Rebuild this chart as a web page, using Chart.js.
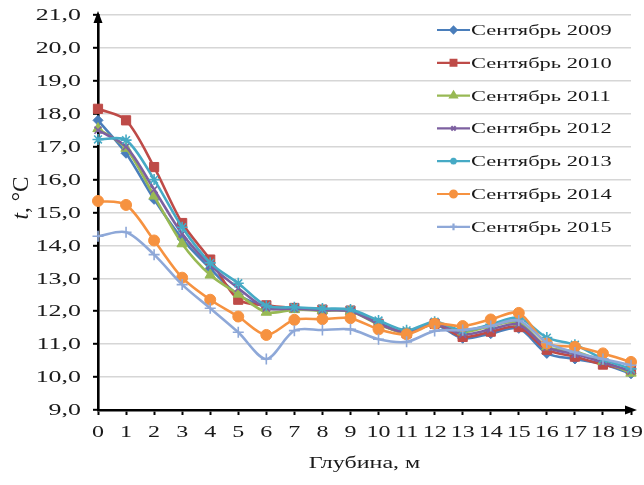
<!DOCTYPE html>
<html>
<head>
<meta charset="utf-8">
<script src="https://cdn.jsdelivr.net/npm/chart.js@4/dist/chart.umd.min.js"></script>
<style>
  html, body { margin: 0; padding: 0; background: #fff; }
  #wrap { width: 644px; height: 485px; }
</style>
</head>
<body>
<div id="wrap"><canvas id="tempChart" width="644" height="485"></canvas></div>
<script>
// глубина, м
const depths = [0, 1, 2, 3, 4, 5, 6, 7, 8, 9, 10, 11, 12, 13, 14, 15, 16, 17, 18, 19];

// температура, °C (сентябрь каждого года)
const sep2009 = [17.8, 16.8, 15.4, 14.2, 13.3, 12.5, 12.15, 12.1, 12.05, 12.0, 11.65, 11.35, 11.6, 11.18, 11.32, 11.48, 10.72, 10.55, 10.4, 10.1];
const sep2010 = [18.15, 17.8, 16.38, 14.68, 13.57, 12.35, 12.18, 12.1, 12.05, 12.02, 11.62, 11.33, 11.62, 11.22, 11.38, 11.52, 10.83, 10.62, 10.38, 10.2];
const sep2011 = [17.55, 16.95, 15.5, 14.05, 13.1, 12.52, 11.97, 12.05, 12.02, 12.0, 11.6, 11.35, 11.62, 11.37, 11.55, 11.65, 10.92, 10.78, 10.48, 10.12];
const sep2012 = [17.5, 17.0, 15.7, 14.35, 13.4, 12.7, 12.1, 12.08, 12.03, 12.0, 11.62, 11.36, 11.63, 11.3, 11.45, 11.6, 10.9, 10.7, 10.45, 10.18];
const sep2013 = [17.22, 17.2, 16.0, 14.55, 13.47, 12.85, 12.17, 12.12, 12.08, 12.05, 11.72, 11.42, 11.68, 11.42, 11.6, 11.8, 11.2, 10.98, 10.55, 10.25];
const sep2014 = [15.35, 15.23, 14.15, 13.02, 12.35, 11.84, 11.28, 11.74, 11.76, 11.79, 11.45, 11.3, 11.62, 11.55, 11.75, 11.95, 11.02, 10.92, 10.72, 10.46];
const sep2015 = [14.28, 14.4, 13.72, 12.81, 12.09, 11.36, 10.55, 11.41, 11.43, 11.45, 11.15, 11.07, 11.4, 11.43, 11.55, 11.72, 11.05, 10.75, 10.55, 10.36];

const seriesNames = ['Сентябрь 2009', 'Сентябрь 2010', 'Сентябрь 2011', 'Сентябрь 2012', 'Сентябрь 2013', 'Сентябрь 2014', 'Сентябрь 2015'];
const seriesValues = [sep2009, sep2010, sep2011, sep2012, sep2013, sep2014, sep2015];

const yMin = 9;
const yMax = 21;
const xTitle = 'Глубина, м';

const colors = ['#4a7ebb', '#be4b48', '#98b954', '#7d60a0', '#46aac5', '#f69240', '#8ea8d8'];
const markers = ['rectRot', 'rect', 'triangle', 'crossRot', 'star', 'circle', 'cross'];
const radii = [5, 6.5, 6, 5, 5.5, 5.5, 5.5];

const FONT = '"Liberation Serif", "Times New Roman", serif';

const datasets = seriesNames.map((name, i) => ({
    label: name,
    data: seriesValues[i],
    borderColor: colors[i],
    backgroundColor: colors[i],
    borderWidth: 2.6,
    pointStyle: markers[i],
    pointRadius: radii[i],
    pointBorderWidth: (markers[i] === 'crossRot' || markers[i] === 'star' || markers[i] === 'cross') ? 1.6 : 1,
    tension: 0.3,
    order: seriesNames.length - i
}));

// текст в исходнике растянут по горизонтали
function wideText(ctx, text, x, y, sx, align) {
    ctx.save();
    ctx.translate(x, y);
    ctx.scale(sx, 1);
    ctx.textAlign = align;
    ctx.fillText(text, 0, 0);
    ctx.restore();
}

const decor = {
    id: 'decor',
    afterDraw(chart) {
        const { ctx, chartArea: a, scales } = chart;
        const xs = scales.x, ys = scales.y;
        ctx.save();

        // стрелки осей
        ctx.fillStyle = '#000';
        ctx.beginPath();
        ctx.moveTo(a.left, a.top - 4);
        ctx.lineTo(a.left - 4.5, a.top + 8);
        ctx.lineTo(a.left + 4.5, a.top + 8);
        ctx.closePath();
        ctx.fill();
        ctx.beginPath();
        ctx.moveTo(a.right + 6, a.bottom);
        ctx.lineTo(a.right - 6, a.bottom - 4.5);
        ctx.lineTo(a.right - 6, a.bottom + 4.5);
        ctx.closePath();
        ctx.fill();

        ctx.fillStyle = '#1a1a1a';
        ctx.textBaseline = 'middle';

        // подписи оси Y
        ctx.font = '16px ' + FONT;
        for (let v = yMin; v <= yMax; v++) {
            wideText(ctx, v.toFixed(1).replace('.', ','), a.left - 17, ys.getPixelForValue(v) + 1, 1.62, 'right');
        }

        // подписи оси X
        depths.forEach((d, i) => {
            wideText(ctx, String(d), xs.getPixelForValue(i), a.bottom + 23, 1.5, 'center');
        });

        // название оси X
        wideText(ctx, xTitle, (a.left + a.right) / 2, a.bottom + 54, 1.5, 'center');

        // название оси Y: курсивная t
        ctx.save();
        ctx.translate(22, 198);
        ctx.rotate(-Math.PI / 2);
        ctx.scale(1.45, 1.5);
        ctx.textAlign = 'left';
        ctx.font = 'italic 16px ' + FONT;
        const tW = ctx.measureText('t').width;
        ctx.font = '16px ' + FONT;
        const restW = ctx.measureText(', °C').width;
        const start = -(tW + restW) / 2;
        ctx.font = 'italic 16px ' + FONT;
        ctx.fillText('t', start, 0);
        ctx.font = '16px ' + FONT;
        ctx.fillText(', °C', start + tW, 0);
        ctx.restore();

        // легенда
        ctx.font = '15.5px ' + FONT;
        chart.data.datasets.forEach((ds, i) => {
            const cy = 30 + i * 32.8;
            ctx.strokeStyle = ds.borderColor;
            ctx.lineWidth = 2.2;
            ctx.beginPath();
            ctx.moveTo(437, cy);
            ctx.lineTo(470, cy);
            ctx.stroke();
            ctx.fillStyle = ds.backgroundColor;
            Chart.helpers.drawPoint(ctx, {
                pointStyle: ds.pointStyle,
                radius: ds.pointRadius * 0.62,
                borderWidth: 1.2,
                rotation: 0
            }, 453.5, cy);
            ctx.fillStyle = '#1a1a1a';
            wideText(ctx, ds.label, 471, cy + 1, 1.45, 'left');
        });

        ctx.restore();
    }
};

const ctx = document.getElementById('tempChart').getContext('2d');
new Chart(ctx, {
    type: 'line',
    data: { labels: depths, datasets },
    options: {
        responsive: false,
        animation: false,
        layout: { padding: { left: 93, right: 13, top: 15, bottom: 70 } },
        plugins: {
            legend: { display: false },
            tooltip: { enabled: false }
        },
        scales: {
            x: {
                type: 'category',
                offset: false,
                grid: { drawOnChartArea: false, tickLength: 5, tickColor: '#000', tickWidth: 2 },
                border: { color: '#000', width: 2.6 },
                ticks: { display: false }
            },
            y: {
                min: yMin,
                max: yMax,
                ticks: { display: false, stepSize: 1 },
                grid: { color: '#d6d6d6', lineWidth: 1.6, tickLength: 5, tickColor: '#000', tickWidth: 2 },
                border: { color: '#000', width: 2.6 }
            }
        }
    },
    plugins: [decor]
});
</script>
</body>
</html>
